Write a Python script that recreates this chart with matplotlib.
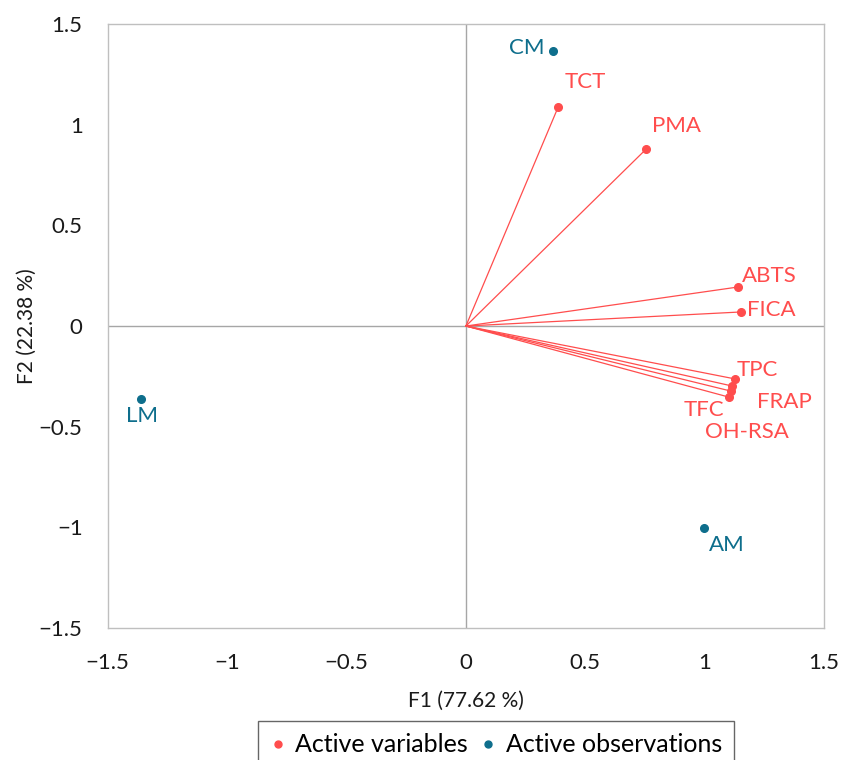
import matplotlib
matplotlib.use("Agg")
import matplotlib.pyplot as plt
from matplotlib.lines import Line2D

plt.rcParams["font.family"] = ["Lato", "DejaVu Sans"]

# Active variables (loadings on F1/F2)
var_names = ["TCT", "PMA", "ABTS", "FICA", "TPC", "FRAP", "OH-RSA", "TFC"]
var_f1 = [0.386, 0.754, 1.139, 1.152, 1.127, 1.114, 1.108, 1.100]
var_f2 = [1.088, 0.879, 0.194, 0.070, -0.263, -0.298, -0.323, -0.353]

# Active observations (scores on F1/F2)
obs_names = ["CM", "LM", "AM"]
obs_f1 = [0.364, -1.362, 0.997]
obs_f2 = [1.366, -0.363, -1.003]

ticks = [-1.5, -1, -0.5, 0, 0.5, 1, 1.5]
tick_labels = ["\u22121.5", "\u22121", "\u22120.5", "0", "0.5", "1", "1.5"]

RED = "#FF4D4D"
BLUE = "#0E6E8C"

# label offsets in pixels (dx, dy, ha)
var_offsets = {
    "TCT": (7, 25, "left"), "PMA": (6, 23, "left"), "ABTS": (4, 11, "left"),
    "FICA": (6, 2, "left"), "TPC": (2, 9, "left"), "FRAP": (25, -16, "left"),
    "OH-RSA": (-26, -41, "left"), "TFC": (-4, -13, "right"),
}
obs_offsets = {"CM": (-8, 3, "right"), "LM": (1, -17, "center"), "AM": (5, -17, "left")}

fig = plt.figure(figsize=(8.41, 7.6), dpi=100)
ax = fig.add_axes([0.128, 0.174, 0.852, 0.794])

ax.axhline(0, color="#A6A6A6", lw=1, zorder=1)
ax.axvline(0, color="#A6A6A6", lw=1, zorder=1)

for name, x, y in zip(var_names, var_f1, var_f2):
    ax.plot([0, x], [0, y], color=RED, lw=0.9, zorder=2)
    ax.plot(x, y, "o", color=RED, ms=5.5, zorder=3)
    dx, dy, ha = var_offsets[name]
    ax.annotate(name, (x, y), xytext=(dx, dy), textcoords="offset pixels",
                ha=ha, va="center", color=RED, fontsize=16)

for name, x, y in zip(obs_names, obs_f1, obs_f2):
    ax.plot(x, y, "o", color=BLUE, ms=5.5, zorder=3)
    dx, dy, ha = obs_offsets[name]
    ax.annotate(name, (x, y), xytext=(dx, dy), textcoords="offset pixels",
                ha=ha, va="center", color=BLUE, fontsize=16)

ax.set_xlim(-1.5, 1.5)
ax.set_ylim(-1.5, 1.5)
ax.set_xticks(ticks)
ax.set_xticklabels(tick_labels)
ax.set_yticks(ticks)
ax.set_yticklabels(tick_labels)
ax.tick_params(length=0, labelsize=16, pad=18, colors="#1A1A1A")
for s in ax.spines.values():
    s.set_color("#BFBFBF")
    s.set_linewidth(1)

ax.set_xlabel("F1 (77.62 %)", fontsize=15, color="#1A1A1A")
ax.set_ylabel("F2 (22.38 %)", fontsize=15, color="#1A1A1A")
ax.xaxis.set_label_coords(0.5, -0.104)
ax.yaxis.set_label_coords(-0.099, 0.5)

handles = [
    Line2D([], [], marker="o", ls="", color=RED, ms=5),
    Line2D([], [], marker="o", ls="", color=BLUE, ms=5),
]
fig.legend(handles, ["Active variables", "Active observations"], loc="center",
           bbox_to_anchor=(0.59, 0.02), ncol=2, fontsize=18, frameon=True,
           fancybox=False, edgecolor="#404040", handlelength=0.6, handletextpad=0.4,
           columnspacing=0.5, borderpad=0.5)

fig.savefig("out.png", dpi=100)
